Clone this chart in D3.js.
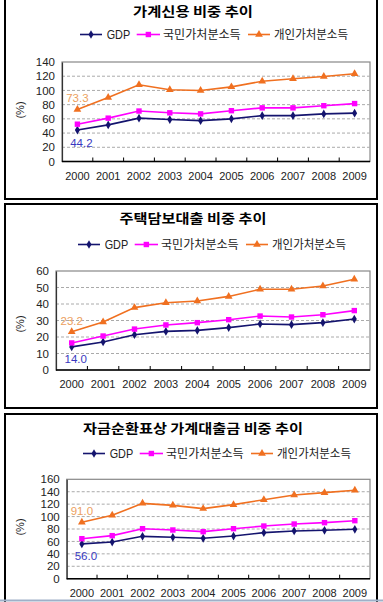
<!DOCTYPE html>
<html><head><meta charset="utf-8">
<script src="https://cdn.jsdelivr.net/npm/d3@7"></script>
<style>
html,body{margin:0;padding:0;background:#fff;}
svg{display:block;}
</style></head>
<body>
<svg id="c" width="383" height="602"></svg>
<script>
// ---------- data ----------
const years = ["2000","2001","2002","2003","2004","2005","2006","2007","2008","2009"];
const seriesNames = ["GDP","국민가처분소득","개인가처분소득"];

const titles = ["가계신용 비중 추이","주택담보대출 비중 추이","자금순환표상 가계대출금 비중 추이"];

const gdp1 = [44.2,51.5,61.0,59.0,57.5,60.0,64.5,64.5,67.0,68.0];
const nat1 = [52.5,61.0,71.0,68.5,67.0,71.5,75.5,75.5,78.5,81.5];
const per1 = [73.3,90.0,108.0,101.0,100.0,105.0,113.0,116.5,119.5,123.5];

const gdp2 = [14.0,17.0,21.4,23.4,24.0,25.7,27.9,27.5,28.7,30.9];
const nat2 = [16.4,20.6,24.8,27.3,28.7,30.5,32.7,32.1,33.5,36.0];
const per2 = [23.2,29.1,37.8,40.8,41.8,44.6,48.9,48.9,50.9,55.0];

const gdp3 = [56.0,59.0,68.2,66.6,65.0,68.7,74.1,76.8,77.9,79.5];
const nat3 = [64.4,69.3,80.5,78.4,75.7,80.5,84.8,88.0,90.2,93.4];
const per3 = [91.0,102.0,121.3,118.1,112.8,119.2,127.2,134.8,138.5,142.3];

const yTicks1 = [0,20,40,60,80,100,120,140];
const yTicks2 = [0,10,20,30,40,50,60];
const yTicks3 = [0,20,40,60,80,100,120,140,160];

const gdpLabels = ["44.2","14.0","56.0"];
const perLabels = ["73.3","23.2","91.0"];

// ---------- layout ----------
const panels = [
  {title:titles[0], data:[gdp1,nat1,per1], ticks:yTicks1, gl:gdpLabels[0], pl:perLabels[0],
   box:[5,-6,377,199], plot:[62,370,62,161.5], titleY:15.5, titleW:120, legX:80, legY:34.5, pctY:110, xLabY:176},
  {title:titles[1], data:[gdp2,nat2,per2], ticks:yTicks2, gl:gdpLabels[1], pl:perLabels[1],
   box:[5,204,377,408], plot:[56,370,271,370], titleY:223, titleW:147, legX:78, legY:244.5, pctY:324, xLabY:384.5},
  {title:titles[2], data:[gdp3,nat3,per3], ticks:yTicks3, gl:gdpLabels[2], pl:perLabels[2],
   box:[5,414,377,640], plot:[66.7,370,479.3,578.7], titleY:433, titleW:220, legX:83, legY:453.5, pctY:527, xLabY:593.5}
];

const colors = ["#14146e","#ff00ff","#f07020"];
const numFont = "'Liberation Sans', Arial, sans-serif";
const krFont = "'Noto Sans CJK KR', sans-serif";

const svg = d3.select("#c");

function marker(g, type, x, y, color){
  if(type===0){
    g.append("path").attr("d", d3.symbol(d3.symbolDiamond, 22)()).attr("transform",`translate(${x},${y})`).attr("fill",color);
  } else if(type===1){
    g.append("rect").attr("x",x-2.7).attr("y",y-2.7).attr("width",5.4).attr("height",5.4).attr("fill",color);
  } else {
    g.append("path").attr("d", d3.symbol(d3.symbolTriangle, 26)()).attr("transform",`translate(${x},${y})`).attr("fill",color);
  }
}

panels.forEach(p => {
  const g = svg.append("g");
  const [bx0,by0,bx1,by1] = p.box;
  g.append("rect").attr("x",bx0).attr("y",by0).attr("width",bx1-bx0).attr("height",by1-by0)
    .attr("fill","#fff").attr("stroke","#000").attr("stroke-width",2);

  // title
  g.append("text").attr("x",(bx0+bx1)/2+2).attr("y",p.titleY).attr("text-anchor","middle")
    .attr("font-family",krFont).attr("font-weight","bold").attr("font-size",13)
    .attr("textLength",p.titleW).attr("lengthAdjust","spacingAndGlyphs")
    .text(p.title);

  // legend
  const lx = p.legX, ly = p.legY;
  const legItems = [
    {l0:0,l1:22,t:26.7,tw:23.5},
    {l0:56.7,l1:80,t:83,tw:77.7},
    {l0:168,l1:190,t:194,tw:74}
  ];
  legItems.forEach((it,i)=>{
    g.append("line").attr("x1",lx+it.l0).attr("x2",lx+it.l1).attr("y1",ly).attr("y2",ly)
      .attr("stroke",colors[i]).attr("stroke-width",1.6);
    marker(g,i,lx+(it.l0+it.l1)/2,ly,colors[i]);
    g.append("text").attr("x",lx+it.t).attr("y",ly+4.3)
      .attr("font-family", i===0?numFont:krFont).attr("font-size",12)
      .attr("fill","#222")
      .attr("textLength",it.tw).attr("lengthAdjust","spacingAndGlyphs")
      .text(seriesNames[i]);
  });

  const [px0,px1,py0,py1] = p.plot;
  const yMax = p.ticks[p.ticks.length-1];
  const y = d3.scaleLinear().domain([0,yMax]).range([py1,py0]);
  const x = d3.scalePoint().domain(years).range([px0,px1]).padding(0.5);
  const xb = d3.scaleBand().domain(years).range([px0,px1]);

  // plot border
  g.append("rect").attr("x",px0).attr("y",py0).attr("width",px1-px0).attr("height",py1-py0)
    .attr("fill","#fff").attr("stroke","#888").attr("stroke-width",1.2);

  // grid
  g.selectAll(null).data(p.ticks.filter(t=>t>0 && t<yMax)).enter().append("line")
    .attr("x1",px0).attr("x2",px1).attr("y1",d=>y(d)).attr("y2",d=>y(d))
    .attr("stroke","#aaa").attr("stroke-width",1).attr("stroke-dasharray","3,2");

  // y axis
  const ya = g.append("g").attr("transform",`translate(${px0},0)`)
    .call(d3.axisLeft(y).tickValues(p.ticks).tickSize(0).tickPadding(7));
  ya.select(".domain").attr("stroke","#333").attr("stroke-width",1.2);
  ya.selectAll("text").attr("font-family",numFont).attr("font-size",11.5).attr("fill","#222");

  // x axis
  const xa = g.append("g").attr("transform",`translate(0,${py1})`)
    .call(d3.axisBottom(xb).tickSize(0).tickPadding(0));
  xa.select(".domain").remove();
  xa.selectAll("text").attr("font-family",numFont).attr("font-size",11).attr("fill","#222")
    .attr("y",p.xLabY-py1).attr("dy","0.35em");
  g.append("line").attr("x1",px0).attr("x2",px1).attr("y1",py1).attr("y2",py1)
    .attr("stroke","#000").attr("stroke-width",1.4);
  g.selectAll(null).data(years.slice(1)).enter().append("line")
    .attr("x1",d=>xb(d)).attr("x2",d=>xb(d)).attr("y1",py1).attr("y2",py1-4)
    .attr("stroke","#000").attr("stroke-width",1);

  // (%)
  g.append("text").attr("transform",`translate(24,${p.pctY}) rotate(-90)`).attr("text-anchor","middle")
    .attr("font-family",numFont).attr("font-size",11).attr("fill","#222").text("(%)");

  // series
  const line = d3.line().x((d,i)=>x(years[i])).y(d=>y(d));
  p.data.forEach((s,k)=>{
    g.append("path").attr("d",line(s)).attr("fill","none").attr("stroke",colors[k]).attr("stroke-width",1.6);
    s.forEach((v,i)=>marker(g,k,x(years[i]),y(v),colors[k]));
  });

  // data labels
  const x0 = x(years[0]);
  g.append("text").attr("x",x0).attr("y",y(p.data[2][0])-11).attr("dy","0.35em").attr("text-anchor","middle")
    .attr("font-family",numFont).attr("font-size",11.5).attr("fill","#eca060").text(p.pl);
  g.append("text").attr("x",x0+4).attr("y",y(p.data[0][0])+12.5).attr("dy","0.35em").attr("text-anchor","middle")
    .attr("font-family",numFont).attr("font-size",11.5).attr("fill","#3838c0").text(p.gl);
});

// bottom light line
svg.append("line").attr("x1",0).attr("x2",383).attr("y1",600.5).attr("y2",600.5)
  .attr("stroke","#9fb0c8").attr("stroke-width",2);
</script>
</body></html>
